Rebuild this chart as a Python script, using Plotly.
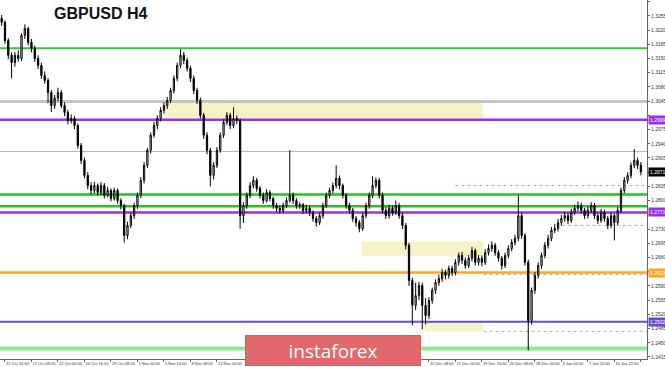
import plotly.graph_objects as go

# ---------------- data ----------------
first_open = 1.3249
close = [
    1.3239, 1.3194, 1.3158, 1.3140, 1.3158, 1.3150, 1.3207, 1.3224, 1.3190,
    1.3175, 1.3150, 1.3133, 1.3108, 1.3096, 1.3066, 1.3034, 1.3052, 1.3066,
    1.3034, 1.3017, 1.2997, 1.3002, 1.2985, 1.2936, 1.2899, 1.2862, 1.2837,
    1.2825, 1.2837, 1.2820, 1.2837, 1.2813, 1.2825, 1.2805, 1.2825, 1.2800,
    1.2788, 1.2714, 1.2739, 1.2763, 1.2788, 1.2813, 1.2850, 1.2887, 1.2924,
    1.2961, 1.2985, 1.3002, 1.3022, 1.3034, 1.3047, 1.3071, 1.3101, 1.3133,
    1.3158, 1.3145, 1.3126, 1.3101, 1.3071, 1.3047, 1.3010, 1.2961, 1.2924,
    1.2862, 1.2887, 1.2924, 1.2961, 1.2993, 1.3010, 1.2985, 1.3002, 1.2997,
    1.2763, 1.2788, 1.2813, 1.2837, 1.2850, 1.2830, 1.2813, 1.2800, 1.2820,
    1.2805, 1.2788, 1.2781, 1.2776, 1.2788, 1.2800, 1.2813, 1.2800, 1.2788,
    1.2790, 1.2776, 1.2781, 1.2771, 1.2756, 1.2746, 1.2763, 1.2788, 1.2813,
    1.2825, 1.2837, 1.2855, 1.2837, 1.2813, 1.2788, 1.2776, 1.2756, 1.2746,
    1.2731, 1.2763, 1.2788, 1.2813, 1.2837, 1.2850, 1.2813, 1.2776, 1.2763,
    1.2781, 1.2771, 1.2788, 1.2763, 1.2739, 1.2690, 1.2603, 1.2542, 1.2566,
    1.2591, 1.2542, 1.2517, 1.2554, 1.2579, 1.2598, 1.2608, 1.2623, 1.2616,
    1.2633, 1.2623, 1.2648, 1.2665, 1.2653, 1.2640, 1.2658, 1.2677, 1.2648,
    1.2658, 1.2648, 1.2672, 1.2682, 1.2690, 1.2672, 1.2658, 1.2640, 1.2665,
    1.2682, 1.2697, 1.2707, 1.2763, 1.2714, 1.2648, 1.2505, 1.2579, 1.2616,
    1.2640, 1.2665, 1.2690, 1.2707, 1.2727, 1.2731, 1.2746, 1.2756, 1.2763,
    1.2751, 1.2771, 1.2781, 1.2788, 1.2776, 1.2763, 1.2776, 1.2788, 1.2763,
    1.2751, 1.2771, 1.2756, 1.2739, 1.2763, 1.2746, 1.2776, 1.2825, 1.2850,
    1.2862, 1.2887, 1.2899, 1.2887, 1.2871,
]
high = [
    1.3257, 1.3244, 1.3200, 1.3165, 1.3166, 1.3170, 1.3212, 1.3234, 1.3228,
    1.3198, 1.3182, 1.3158, 1.3140, 1.3118, 1.3102, 1.3072, 1.3060, 1.3078,
    1.3072, 1.3042, 1.3024, 1.3012, 1.3008, 1.2990, 1.2942, 1.2906, 1.2870,
    1.2845, 1.2846, 1.2842, 1.2846, 1.2843, 1.2834, 1.2830, 1.2832, 1.2830,
    1.2806, 1.2792, 1.2748, 1.2770, 1.2795, 1.2820, 1.2858, 1.2895, 1.2930,
    1.2968, 1.2994, 1.3010, 1.3030, 1.3042, 1.3055, 1.3078, 1.3108, 1.3140,
    1.3172, 1.3166, 1.3152, 1.3132, 1.3108, 1.3078, 1.3054, 1.3016, 1.2968,
    1.2930, 1.2895, 1.2932, 1.2968, 1.3000, 1.3018, 1.3016, 1.3030, 1.3010,
    1.3002, 1.2796, 1.2820, 1.2845, 1.2860, 1.2856, 1.2836, 1.2820, 1.2828,
    1.2826, 1.2810, 1.2795, 1.2788, 1.2795, 1.2808, 1.2924, 1.2820, 1.2806,
    1.2796, 1.2794, 1.2790, 1.2788, 1.2776, 1.2762, 1.2770, 1.2795, 1.2820,
    1.2832, 1.2845, 1.2887, 1.2862, 1.2842, 1.2818, 1.2795, 1.2782, 1.2762,
    1.2752, 1.2770, 1.2795, 1.2820, 1.2860, 1.2857, 1.2856, 1.2820, 1.2784,
    1.2790, 1.2788, 1.2800, 1.2794, 1.2770, 1.2745, 1.2696, 1.2610, 1.2598,
    1.2600, 1.2598, 1.2560, 1.2562, 1.2586, 1.2606, 1.2618, 1.2632, 1.2630,
    1.2640, 1.2640, 1.2656, 1.2672, 1.2674, 1.2660, 1.2666, 1.2686, 1.2682,
    1.2666, 1.2665, 1.2680, 1.2692, 1.2700, 1.2696, 1.2678, 1.2664, 1.2672,
    1.2690, 1.2705, 1.2716, 1.2813, 1.2770, 1.2720, 1.2655, 1.2586, 1.2624,
    1.2648, 1.2672, 1.2698, 1.2716, 1.2735, 1.2742, 1.2755, 1.2765, 1.2772,
    1.2770, 1.2780, 1.2790, 1.2798, 1.2795, 1.2782, 1.2785, 1.2796, 1.2794,
    1.2770, 1.2780, 1.2778, 1.2762, 1.2770, 1.2768, 1.2784, 1.2832, 1.2858,
    1.2870, 1.2894, 1.2927, 1.2906, 1.2895,
]
low = [
    1.3230, 1.3186, 1.3148, 1.3101, 1.3130, 1.3142, 1.3144, 1.3198, 1.3182,
    1.3165, 1.3142, 1.3124, 1.3100, 1.3088, 1.3040, 1.3018, 1.3026, 1.3045,
    1.3028, 1.3008, 1.2988, 1.2990, 1.2976, 1.2928, 1.2890, 1.2855, 1.2828,
    1.2815, 1.2818, 1.2812, 1.2814, 1.2805, 1.2808, 1.2798, 1.2800, 1.2792,
    1.2778, 1.2697, 1.2705, 1.2732, 1.2755, 1.2780, 1.2806, 1.2842, 1.2880,
    1.2916, 1.2955, 1.2976, 1.2995, 1.3014, 1.3026, 1.3040, 1.3064, 1.3094,
    1.3126, 1.3136, 1.3118, 1.3092, 1.3062, 1.3038, 1.3002, 1.2952, 1.2914,
    1.2835, 1.2852, 1.2880, 1.2918, 1.2954, 1.2986, 1.2976, 1.2978, 1.2988,
    1.2731, 1.2745, 1.2780, 1.2806, 1.2830, 1.2822, 1.2805, 1.2792, 1.2795,
    1.2798, 1.2780, 1.2772, 1.2768, 1.2770, 1.2782, 1.2795, 1.2792, 1.2780,
    1.2780, 1.2768, 1.2770, 1.2762, 1.2748, 1.2736, 1.2740, 1.2756, 1.2782,
    1.2806, 1.2818, 1.2830, 1.2828, 1.2805, 1.2780, 1.2768, 1.2748, 1.2736,
    1.2722, 1.2725, 1.2756, 1.2780, 1.2806, 1.2830, 1.2805, 1.2768, 1.2755,
    1.2756, 1.2763, 1.2765, 1.2755, 1.2730, 1.2680, 1.2590, 1.2493, 1.2530,
    1.2555, 1.2483, 1.2495, 1.2508, 1.2546, 1.2570, 1.2590, 1.2600, 1.2606,
    1.2608, 1.2614, 1.2616, 1.2640, 1.2644, 1.2632, 1.2634, 1.2650, 1.2640,
    1.2640, 1.2638, 1.2642, 1.2665, 1.2674, 1.2664, 1.2650, 1.2630, 1.2634,
    1.2658, 1.2675, 1.2690, 1.2700, 1.2706, 1.2640, 1.2431, 1.2495, 1.2570,
    1.2608, 1.2632, 1.2658, 1.2682, 1.2700, 1.2720, 1.2724, 1.2738, 1.2748,
    1.2742, 1.2745, 1.2764, 1.2774, 1.2768, 1.2755, 1.2756, 1.2770, 1.2755,
    1.2742, 1.2745, 1.2748, 1.2730, 1.2732, 1.2702, 1.2740, 1.2770, 1.2818,
    1.2842, 1.2855, 1.2880, 1.2878, 1.2862,
]

# time-scale labels visible on the picture (the ones under the logo are hidden there)
time_labels = [
    "12 Oct 16:00", "17 Oct 08:00", "22 Oct 00:00", "24 Oct 16:00", "29 Oct 08:00",
    "1 Nov 00:00", "5 Nov 16:00", "8 Nov 08:00", "13 Nov 00:00",
    "12 Dec 08:00", "17 Dec 00:00", "19 Dec 16:00", "24 Dec 08:00",
    "28 Dec 04:00", "3 Jan 04:00", "7 Jan 20:00", "10 Jan 12:00", "15 Jan 04:00",
]
time_label_bars = [3, 19, 35, 51, 67, 83, 99, 115, 131,
                   259, 275, 291, 307, 323, 339, 355, 371, 387]

price_ticks = [1.2415, 1.2450, 1.2485, 1.2520, 1.2555, 1.2590, 1.2625, 1.2660, 1.2695,
               1.2730, 1.2765, 1.2800, 1.2835, 1.2870, 1.2905, 1.2940, 1.2975, 1.3010,
               1.3045, 1.3080, 1.3115, 1.3150, 1.3185, 1.3220, 1.3255, 1.3290]
# tick labels hidden behind the coloured price badges on the scale
price_ticks_covered = [1.2625, 1.2765, 1.2870, 1.3010]

# horizontal levels
levels = [1.3175, 1.3044, 1.2999, 1.2921, 1.2815, 1.2786, 1.2771, 1.2623, 1.2502, 1.2436]
# dotted reference lines (price, starting bar)
dotted_levels = [1.2837, 1.2739, 1.2618, 1.2478]
dotted_start_bars = [275, 336, 292, 292]
# yellow zones (bar from, bar to, price low, price high)
zone_bar0 = [99.5, 218.5, 256.5]
zone_bar1 = [291.7, 291.7, 291.7]
zone_lo = [1.3002, 1.2663, 1.2478]
zone_hi = [1.3044, 1.2699, 1.2502]
# labelled levels on the price scale
badge_levels = [1.2999, 1.2771, 1.2623, 1.2502]

# ---------------- styles ----------------
level_colors = ["#36c936", "#c4c4c4", "#9b30e6", "#b5b5b5", "#22c422", "#22c422",
                "#9b30e6", "#ffa424", "#6a4bd0", "#8ceb8c"]
level_widths = [2, 3, 2.5, 1, 2.5, 2.5, 2.5, 2.5, 2, 4]
badge_colors = ["#9b30e6", "#9b30e6", "#ffa424", "#6a4bd0"]

n = min(len(close), len(high), len(low))
close, high, low = close[:n], high[:n], low[:n]
open_ = [first_open] + close[:-1]
bars = [1 + 2 * i for i in range(n)]

X_MAX = 390.7
Y_MIN, Y_MAX = 1.2410, 1.3294
PLOT_W, PLOT_H = 647, 359

fig = go.Figure()
fig.add_trace(go.Candlestick(
    x=bars, open=open_, high=high, low=low, close=close,
    increasing=dict(line=dict(color="#000000", width=1), fillcolor="#ffffff"),
    decreasing=dict(line=dict(color="#000000", width=1), fillcolor="#000000"),
    whiskerwidth=0, showlegend=False, hoverinfo="skip",
))

shapes = []
for b0, b1, lo, hi in zip(zone_bar0, zone_bar1, zone_lo, zone_hi):
    shapes.append(dict(type="rect", xref="x", yref="y", x0=b0, x1=b1, y0=lo, y1=hi,
                       fillcolor="#f7f3c6", line=dict(width=0), layer="below"))
for lv, sb in zip(dotted_levels, dotted_start_bars):
    shapes.append(dict(type="line", xref="x", yref="y", x0=sb, x1=X_MAX, y0=lv, y1=lv,
                       line=dict(color="#8fb6dc", width=1, dash="dot"), layer="below"))
for lv, col, w in zip(levels, level_colors, level_widths):
    shapes.append(dict(type="line", xref="x", yref="y", x0=0, x1=X_MAX, y0=lv, y1=lv,
                       line=dict(color=col, width=w), layer="below"))

annotations = [
    dict(text="<b>GBPUSD H4</b>", xref="paper", yref="paper",
         x=100 / PLOT_W, y=1 - 13 / PLOT_H, xanchor="center", yanchor="middle",
         showarrow=False,
         font=dict(family="Liberation Sans", size=16, color="#111111")),
    # instaforex logo box
    dict(text="instaforex", xref="paper", yref="paper",
         x=333 / PLOT_W, y=1 - 350.5 / PLOT_H, xanchor="center", yanchor="middle",
         width=174, height=29, align="center", valign="middle",
         bgcolor="#e2686c", bordercolor="#d65f63", borderwidth=1, borderpad=0,
         showarrow=False,
         font=dict(family="Open Sans", size=19, color="#ffffff")),
]
for lv, col in zip(badge_levels, badge_colors):
    annotations.append(dict(text=f"{lv:.4f}", xref="paper", yref="y", x=1, y=lv,
                            xanchor="left", xshift=1, showarrow=False, bgcolor=col,
                            borderpad=1, font=dict(size=5, color="#ffffff")))
annotations.append(dict(text=f"{close[-1]:.4f}", xref="paper", yref="y", x=1, y=close[-1],
                        xanchor="left", xshift=1, showarrow=False, bgcolor="#000000",
                        borderpad=1, font=dict(size=5, color="#ffffff")))

price_ticktext = ["" if t in price_ticks_covered else f"{t:.4f}" for t in price_ticks]

fig.update_layout(
    width=665, height=367,
    margin=dict(l=0, r=18, t=0, b=8, autoexpand=False),
    paper_bgcolor="#ffffff", plot_bgcolor="#ffffff",
    boxgap=0.45,
    annotations=annotations, shapes=shapes,
    font=dict(family="Liberation Sans", color="#333333"),
    xaxis=dict(range=[0, X_MAX], showgrid=False, zeroline=False,
               showline=True, linecolor="#666666", linewidth=1,
               tickvals=time_label_bars, ticktext=time_labels, tickangle=0,
               ticks="outside", ticklen=2, tickcolor="#666666",
               ticklabelposition="outside right", automargin=False,
               tickfont=dict(size=4, color="#333333"),
               rangeslider=dict(visible=False), fixedrange=True),
    yaxis=dict(range=[Y_MIN, Y_MAX], side="right", showgrid=False, zeroline=False,
               showline=True, linecolor="#666666", linewidth=1,
               tickvals=price_ticks, ticktext=price_ticktext, automargin=False,
               ticks="outside", ticklen=2, tickcolor="#666666",
               tickfont=dict(size=5, color="#333333"), fixedrange=True),
)

fig.write_html("out.html")
